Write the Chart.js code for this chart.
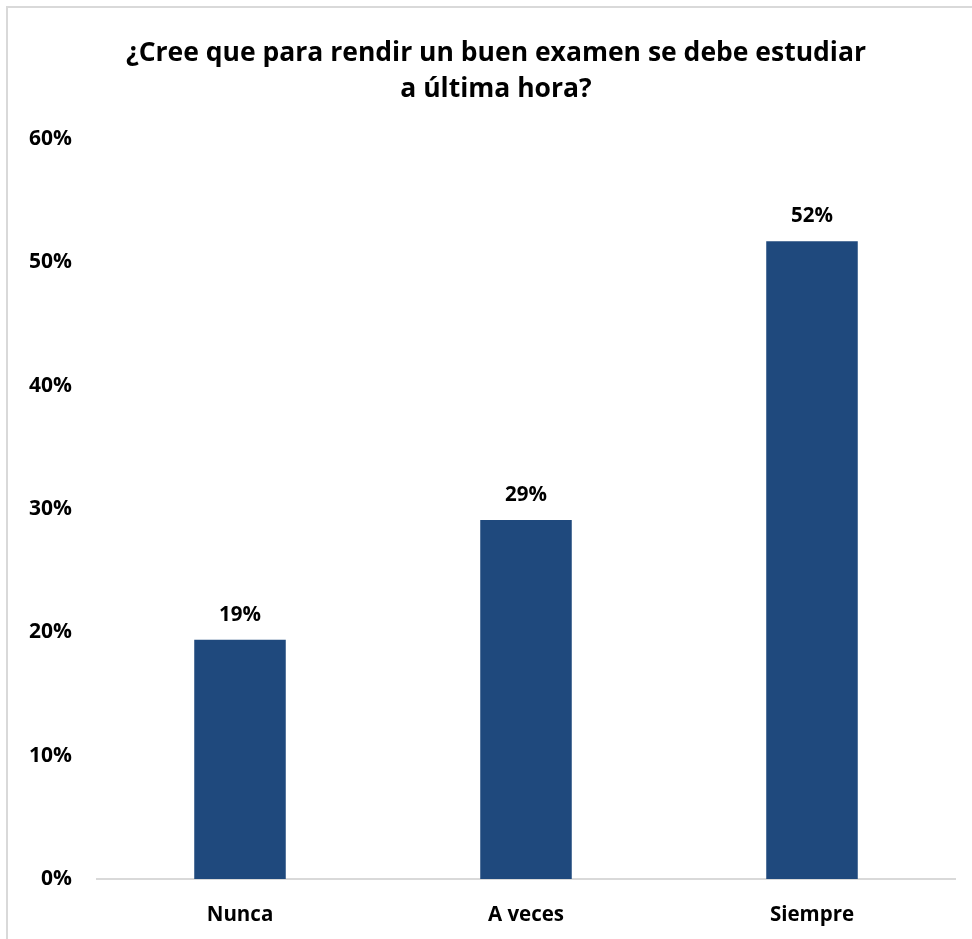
<!DOCTYPE html>
<html>
<head>
<meta charset="utf-8">
<script src="https://cdn.jsdelivr.net/npm/chart.js@4/dist/chart.umd.min.js"></script>
<style>
  html, body { margin: 0; padding: 0; background: #fff; }
  #frame {
    position: absolute; left: 6px; top: 6px; width: 964px; height: 931px;
    border-left: 2px solid #d9d9d9; border-top: 2px solid #d9d9d9;
  }
  canvas { display: block; }
</style>
</head>
<body>
<div id="frame"><canvas id="chart" width="964" height="931"></canvas></div>
<script>
const titleLines = ["¿Cree que para rendir un buen examen se debe estudiar", "a última hora?"];
const categories = ["Nunca", "A veces", "Siempre"];
const shares = [0.194, 0.291, 0.517];
const barColor = "#1f497d";
const fontFamily = "'Open Sans', Lato, sans-serif";

// title drawn by hand so it can sit a little right of the canvas centre, as in the original
const titleBlock = {
  id: "titleBlock",
  afterDraw(chart) {
    const ctx = chart.ctx;
    ctx.save();
    ctx.font = `bold 26.5px ${fontFamily}`;
    ctx.fillStyle = "#000";
    ctx.textAlign = "center";
    ctx.textBaseline = "middle";
    titleLines.forEach((line, i) => ctx.fillText(line, 488, 45.5 + i * 36));
    ctx.restore();
  }
};

const valueLabels = {
  id: "valueLabels",
  afterDatasetsDraw(chart) {
    const ctx = chart.ctx;
    const meta = chart.getDatasetMeta(0);
    ctx.save();
    ctx.font = `bold 20.5px ${fontFamily}`;
    ctx.fillStyle = "#000";
    ctx.textAlign = "center";
    ctx.textBaseline = "middle";
    meta.data.forEach((bar, i) => {
      ctx.fillText(Math.round(shares[i] * 100) + "%", bar.x, bar.y - 25);
    });
    ctx.restore();
  }
};

new Chart(document.querySelector("#chart"), {
  type: "bar",
  data: {
    labels: categories,
    datasets: [{
      data: shares,
      backgroundColor: barColor,
      categoryPercentage: 1,
      barPercentage: 0.32
    }]
  },
  options: {
    responsive: false,
    animation: false,
    layout: { padding: { left: 0, right: 17, top: 131, bottom: 0 } },
    plugins: {
      legend: { display: false },
      tooltip: { enabled: false },
      title: { display: false }
    },
    scales: {
      x: {
        grid: { display: false, drawTicks: false },
        border: { display: true, color: "#d9d9d9", width: 2 },
        ticks: { color: "#000", padding: 24, font: { family: fontFamily, size: 20.5, weight: "bold" } },
        afterFit(scale) { scale.height = 60; }
      },
      y: {
        min: 0,
        max: 0.6,
        grid: { display: false, drawTicks: false },
        border: { display: false },
        ticks: {
          stepSize: 0.1,
          color: "#000",
          padding: 25,
          font: { family: fontFamily, size: 21, weight: "bold" },
          callback: (v) => Math.round(v * 100) + "%"
        },
        afterFit(scale) { scale.width = 89; }
      }
    }
  },
  plugins: [valueLabels, titleBlock]
});
</script>
</body>
</html>
